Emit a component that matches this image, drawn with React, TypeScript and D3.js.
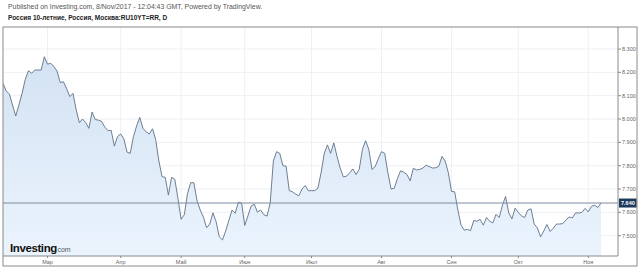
import React from "react";
import * as d3 from "d3";

const values: number[] = [
  8.153, 8.12, 8.107, 8.06, 8.013, 8.06, 8.11, 8.17, 8.207, 8.196,
  8.21, 8.21, 8.21, 8.267, 8.235, 8.239, 8.225, 8.205, 8.156, 8.16,
  8.13, 8.096, 8.11, 8.04, 7.984, 8.0, 7.985, 7.96, 8.03, 7.998,
  7.995, 7.99, 7.965, 7.95, 7.952, 7.884, 7.925, 7.936, 7.915, 7.858,
  7.853, 7.924, 7.97, 8.007, 7.96, 7.945, 7.936, 7.958, 7.912, 7.82,
  7.753, 7.75, 7.674, 7.75, 7.742, 7.66, 7.57, 7.59, 7.68, 7.727,
  7.727, 7.65, 7.61, 7.58, 7.534, 7.55, 7.598, 7.56, 7.495, 7.482,
  7.52, 7.565, 7.61, 7.596, 7.643, 7.64, 7.544, 7.585, 7.627, 7.635,
  7.601, 7.61, 7.59, 7.584, 7.64, 7.82, 7.86, 7.853, 7.8, 7.798,
  7.693, 7.688, 7.678, 7.671, 7.7, 7.715, 7.693, 7.693, 7.693, 7.703,
  7.77, 7.853, 7.889, 7.853, 7.898, 7.84, 7.79, 7.752, 7.755, 7.77,
  7.786, 7.762, 7.785, 7.87, 7.907, 7.87, 7.784, 7.796, 7.83, 7.86,
  7.853, 7.77, 7.7, 7.703, 7.745, 7.778, 7.772, 7.762, 7.735, 7.789,
  7.782, 7.784, 7.79, 7.802, 7.796, 7.79, 7.791, 7.797, 7.84, 7.82,
  7.77, 7.69, 7.688, 7.61, 7.545, 7.524, 7.527, 7.522, 7.565, 7.562,
  7.57, 7.545, 7.578, 7.562, 7.555, 7.592, 7.578, 7.63, 7.668, 7.598,
  7.572, 7.618, 7.6, 7.585, 7.578, 7.61, 7.615, 7.55, 7.533, 7.495,
  7.52, 7.548, 7.518, 7.532, 7.55, 7.55, 7.552, 7.568, 7.58, 7.576,
  7.598, 7.597, 7.6, 7.617, 7.602, 7.626, 7.63, 7.621, 7.64,
];

const monthLabels: string[] = ["Мар", "Апр", "Май", "Июн", "Июл", "Авг", "Сен", "Окт", "Ноя"];
const monthIndex: number[] = [14, 37, 56, 76, 97, 119, 141, 162, 184];
const yTicks: number[] = [7.5, 7.6, 7.7, 7.8, 7.9, 8.0, 8.1, 8.2, 8.3];
const lastValue = 7.64;

const FONT = "'Liberation Sans', Arial, sans-serif";

export default function App() {
  const W = 640, H = 269;
  const left = 3, right = 618, top = 27, bottom = 256, outerRight = 637, outerBottom = 266;

  const x = d3.scaleLinear().domain([0, values.length - 1]).range([3, 601]);
  const y = d3.scaleLinear().domain([7.5, 8.3]).range([235.7, 49]);

  const line = d3.line<number>().x((_, i) => x(i)).y((d) => y(d));
  const area = d3.area<number>().x((_, i) => x(i)).y0(bottom).y1((d) => y(d));

  return (
    <svg width={W} height={H} style={{ position: "absolute", left: 0, top: 0, background: "#fff" }}>
      <defs>
        <linearGradient id="fillg" x1="0" y1="0" x2="0" y2="1">
          <stop offset="0%" stopColor="#d3e2f3" />
          <stop offset="100%" stopColor="#ebf4fd" />
        </linearGradient>
        <clipPath id="plotclip">
          <rect x={left} y={top} width={right - left} height={bottom - top} />
        </clipPath>
      </defs>
      <rect x={0} y={0} width={W} height={H} fill="#fff" />
      <text x={8} y={9} fontFamily={FONT} fontSize={6.9} fill="#555">
        Published on Investing.com, 8/Nov/2017 - 12:04:43 GMT, Powered by TradingView.
      </text>
      <text x={8} y={20} fontFamily={FONT} fontSize={6.5} fontWeight="bold" fill="#222">
        Россия 10-летние, Россия, Москва:RU10YT=RR, D
      </text>

      <g clipPath="url(#plotclip)">
        {yTicks.map((t) => (
          <line key={"gy" + t} x1={left} x2={right} y1={y(t)} y2={y(t)} stroke="#eef0f3" strokeWidth={1} />
        ))}
        {monthIndex.map((m, k) => (
          <line key={"gx" + k} x1={x(m)} x2={x(m)} y1={top} y2={bottom} stroke="#eef0f3" strokeWidth={1} />
        ))}
        <path d={area(values) || ""} fill="url(#fillg)" />
        <path d={line(values) || ""} fill="none" stroke="#5f7088" strokeWidth={0.9} />
        <line x1={left} x2={right} y1={y(lastValue)} y2={y(lastValue)} stroke="#7d8ca0" strokeWidth={1} />
      </g>

      <rect x={left} y={top} width={outerRight - left} height={outerBottom - top} fill="none" stroke="#8a8a8a" strokeWidth={1} />
      <line x1={right} x2={right} y1={top} y2={bottom} stroke="#8a8a8a" strokeWidth={1} />
      <line x1={left} x2={right} y1={bottom} y2={bottom} stroke="#8a8a8a" strokeWidth={1} />

      {yTicks.map((t) => (
        <g key={"yt" + t}>
          <line x1={right} x2={right + 3} y1={y(t)} y2={y(t)} stroke="#8a8a8a" />
          <text x={622} y={y(t) + 2} fontFamily={FONT} fontSize={5.5} fill="#666">
            {d3.format(".3f")(t)}
          </text>
        </g>
      ))}
      <rect x={right + 1} y={y(lastValue) - 4.5} width={outerRight - right - 1.5} height={9} fill="#1e3a5c" />
      <text x={621} y={y(lastValue) + 2} fontFamily={FONT} fontSize={5.5} fontWeight="bold" fill="#fff">
        {d3.format(".3f")(lastValue)}
      </text>

      {monthIndex.map((m, k) => (
        <g key={"xt" + k}>
          <line x1={x(m)} x2={x(m)} y1={bottom} y2={bottom + 2} stroke="#8a8a8a" />
          <text x={x(m)} y={263.5} textAnchor="middle" fontFamily={FONT} fontSize={5.5} fill="#666">
            {monthLabels[k]}
          </text>
        </g>
      ))}

      <text x={10} y={251.5} fontFamily={FONT} fill="#111">
        <tspan fontSize={11.5} fontWeight="bold" letterSpacing={-0.4}>Investing</tspan>
        <tspan fontSize={7} fill="#555" dx={0.5}>com</tspan>
      </text>
    </svg>
  );
}
